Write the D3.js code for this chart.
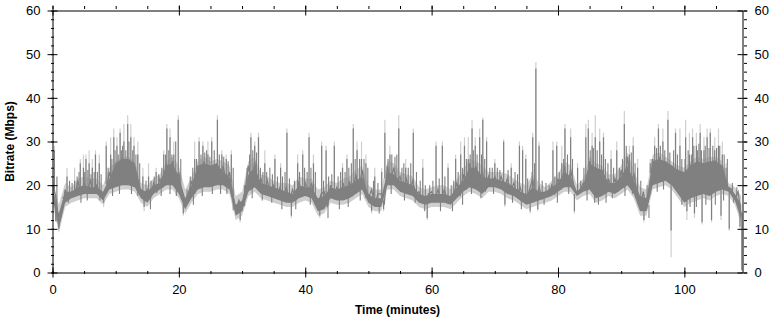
<!DOCTYPE html>
<html>
<head>
<meta charset="utf-8">
<script src="https://cdn.jsdelivr.net/npm/d3@7"></script>
<style>
  body { margin: 0; background: #fff; }
  svg { display: block; font-family: "Liberation Sans", Arial, sans-serif; }
</style>
</head>
<body>
<div id="chart"></div>
<script>
// bitrate, one entry per minute (t = 0..109)
var minutes = d3.range(0, 110);
var bandLo = [17,10,16,17,17.5,18,18,18,16.5,19, 19.5,20,20,19.5,17,16,18,19,20,20,
  18,14.5,17,19,19.5,19.5,20,20,19,13, 14,18.5,19.5,18,17.5,17,16.5,16,16,17,
  17.5,17,14,14.5,17,16.5,16.5,17,18,19, 16,15,15,20,20,18.5,18,17.5,16,15.5,
  16,16,16,15.5,17,18.5,19.5,19,18,19.5, 19.5,19,18,17.5,16.5,15.5,16,16.5,17,17.5,
  18.5,19.5,19.5,17.5,18.5,19,17,17.5,18.5,18, 19,20,18,14,14,20,20.5,21,20,18,
  16,17,17.5,18,17.5,18.5,19,18.5,16.5,12];
var bandHi = [19.5,13.5,18.5,18.5,19.5,20,19.5,19.5,18.5,21.5, 25,26,26,25,19,18.5,20,20.5,24.5,25,
  22,17,20,24.5,25,24.5,25,23,22,15.5, 16.5,22.5,24,20.5,20,19.5,19,18.5,18,20,
  19.5,19.5,17,17.5,19.5,19,19.5,20,21,22, 18,17,17,23,22.5,21,20.5,20,18,17.5,
  18,18,18,17.5,19.5,21,24,24,22,21.5, 21.5,21,20.5,19.5,18.5,18,19.5,18.5,18.5,19.5,
  20.5,23,22,18.5,20,25,24,23.5,20.5,20.5, 22,24.5,21,17.5,17,25.5,26,25.5,24.5,23.5,
  23,24.5,25.5,25,25.5,25.5,24.5,19.5,18,15.5];
var lightLo = [16,9,15,16,16.5,17,17,17,15.5,18, 18.5,19,19,18.5,16,15,17,18,19,19,
  17,13.5,16,18,18.5,18.5,19,19,18,12, 13,17.5,18.5,17,16.5,16,15.5,15,15,16,
  16.5,16,13,13.5,16,15.5,15.5,16,17,18, 15,14,14,19,19,17.5,17,16.5,15,14.5,
  15,15,15,14.5,16,17.5,18.5,18,17,18.5, 18.5,18,17,16.5,15.5,14.5,15,15.5,16,16.5,
  17.5,18.5,18.5,16.5,17.5,18,16,16.5,17.5,17, 18,19,17,13,13,19,19.5,20,19,17,
  15,16,16.5,17,16.5,17.5,18,17.5,15.5,11];
var lightHi = [21.5,15.5,20.5,19.5,21.5,22,21.5,21.5,20,24, 25.5,26.5,26.5,25.5,20.5,20,21.5,22.5,25.5,26.5,
  24.5,19,22,25.5,26.5,25.5,26,25.5,24.5,17.5, 18.5,25.5,26.5,22.5,22,21,20.5,20.5,20,22,
  21.5,21.5,19,19.5,21,20.5,21.5,22,23.5,24.5, 20,19,19,25.5,25,23,22.5,22,19.5,19,
  19.5,20,20,19,21.5,23.5,26,25.5,24.5,23, 23,23,22.5,21.5,20.5,20,22.5,20.5,19.5,21,
  22.5,25.5,24.5,20,21.5,26.5,25,24.5,22.5,22.5, 24.5,27.5,23.5,19.5,19,27,27.5,26.5,25.5,24.5,
  24,25.5,26.5,26,26.5,26.5,25.5,20.5,19.5,17.5];

// half-minute trace of the dark series (t = 0, 0.5, ... 109)
var trace = [20,17.5, 11,14, 19,17, 18.5,17.5, 21,18, 20.5,18.5, 21,18.5, 20,18, 17,19, 23,19.5,
  24.5,20, 26,21, 25,20.5, 24,20, 19,16.5, 19,17, 20.5,18.5, 21.5,19.5, 25,21, 25.5,20.5,
  23,17, 15,18, 21,18, 24.5,20, 25.5,20, 24,20.5, 25,21, 24.5,20.5, 23,18, 14,16.5,
  14.5,19, 24.5,19.5, 25.5,20, 21.5,18.5, 21,18, 20,17.5, 19.5,17, 19.5,16.5, 19,16.5, 21,17.5,
  20.5,18, 20.5,17, 15,18, 18.5,15, 20,17.5, 19.5,17, 20.5,17, 21,17.5, 22.5,18.5, 23.5,19,
  17,19, 15.5,18, 18,15.5, 24.5,20.5, 24,20.5, 22,19, 21.5,18.5, 21,18, 18.5,16.5, 16,18,
  18.5,16.5, 19,16.5, 19,16.5, 16,18, 20.5,17.5, 22.5,19, 25,20, 24.5,19.5, 23.5,18.5, 22,20,
  22,20, 22,19.5, 21.5,18.5, 20.5,18, 19.5,17, 16,19, 21.5,16.5, 19.5,17, 18.5,17.5, 20,18,
  21.5,19, 24.5,20, 23.5,20, 18,19, 20.5,19, 25.5,19.5, 24,17.5, 23.5,18, 21.5,19, 21.5,18.5,
  23.5,19.5, 26.5,20.5, 22.5,18.5, 14.5,18.5, 14.5,18, 26,20.5, 26.5,21, 25.5,21.5, 24.5,20.5, 23.5,18.5,
  16.5,23, 24.5,17.5, 25.5,18, 25,18.5, 18,25.5, 25.5,19, 24.5,19.5, 19.5,19, 17,18.5, 13];

// short peaks: [minute, dark top, light top]
var peaks = [[0.3,28,29],[2.3,22,24],[3.5,21,24],[4.4,25,26],[4.9,24,27],[5.3,26,27],[5.8,25,28],
  [6.3,24,26],[6.8,27,28],[7.4,25,27],[8.5,29,30],[9.2,27,31],[9.7,31,33],[10.2,29,31],
  [10.7,32,33],[11.3,30,34],[11.9,34,36],[12.4,31,34],[12.9,29,31],[13.5,27,30],[14.3,22,24],
  [15.2,22,25],[16.4,23,24],[17.6,27,28],[18.1,33,34],[18.6,31,33],[19.2,27,30],[19.9,35,36],
  [22.5,26,30],[23.2,30,31],[23.8,29,30],[24.6,27,30],[25.2,30,31],[26.1,35,36],[26.8,27,28],
  [27.5,26,27],[28.3,27,28],[31.4,31,32],[32,29,30],[32.6,31,32],[33.6,25,28],[35.2,26,27],
  [36.1,24,25],[37.1,32,33],[38.8,25,27],[39.6,27,28],[40.6,31,32],[41.3,25,27],[42.6,29,30],
  [43.3,28,29],[44.6,29,30],[45.9,24,25],[46.6,26,27],[47.6,33,34],[48.2,28,30],[48.9,26,30],
  [49.6,25,27],[51,22,24],[52.1,23,24],[52.6,32,35],[53.4,27,29],[54.8,33,36],[55.9,24,26],
  [57.1,32,33],[58.6,24,26],[60.7,29,30],[61.7,29,30],[62.6,24,25],[63.8,26,27],[64.6,27,30],
  [65.2,29,31],[65.8,26,31],[66.4,33,35],[66.9,29,31],[67.6,31,33],[68.1,35,35.5],[68.7,30,31],
  [70,25,26],[71.4,30,30.5],[72.6,24,25],[73.9,29,30],[74.4,28,29],[74.9,26,27],[76,31,32],
  [76.5,46.7,48.2],[77,29,30],[79.2,28,30],[79.8,29,30],[80.6,25,29],[81.1,33,34],[82,31,33],
  [83.1,24,25],[84.4,31,34],[84.8,33,35],[85.4,29,32],[85.9,31,36],[86.6,30,33],[87.2,31,32],
  [88.4,26,28],[89.3,28,30],[90.5,34,37],[91.3,27,29],[91.9,29,31],[92.6,24,26],[94.6,25,26],
  [95.3,29,31],[95.9,33,34],[96.6,30,33],[97.4,35,37],[98.6,32,33],[99.3,29,33],[100.2,31,35],
  [100.8,27,32],[101.3,31,33],[101.9,29,32],[102.5,32,34],[103.1,28,31],[103.6,31,33],
  [104.1,32,33],[104.8,28,31],[105.4,29,33],[106,27,30],[106.6,24,25]];

// short drops: [minute, dark bottom, light bottom]
var dips = [[1,10,9.5],[8.1,16,15],[14.5,15,14],[20.7,13.5,13],[29.7,12,11.5],[37.8,13,12.5],
  [42.3,13,12.5],[50.5,14,13.5],[52.4,14.5,14],[59.3,12.5,12],[71.6,15.5,15],[75.6,14,13.5],
  [76.8,14.5,14],[82.6,14,13.5],[93.6,12,11.5],[97.9,9.6,3.5],[100.4,14,12],[101.6,13.5,12.5],
  [102.8,11.5,11],[104.3,12,11.5],[105.8,13,12],[107.1,10,9.5],[108.8,10.5,10],[109.1,0.5,0.5]];

// smaller flickers above the band: [minute, top]
var hairs = [[0.7,22],[1.6,17],[2.7,21],[3.1,20.5],[3.9,22],[4.2,23],[5.1,23],[5.6,23.5],[6.1,22.5],
  [6.6,23],[7.1,23],[7.7,22.5],[8.8,24],[9.4,26],[9.9,28],[10.4,27],[10.9,28],[11.1,29],[11.6,28],
  [12.1,30],[12.7,28],[13.2,27],[13.8,25],[14.8,21],[15.6,21],[16.1,22],[16.8,22.5],[17.3,24],
  [17.9,27],[18.4,28],[18.9,27],[19.5,30],[20.3,26],[21.3,19],[21.8,22],[22.2,24],[22.8,26],
  [23.5,27],[24.1,27.5],[24.4,28],[24.9,26.5],[25.6,28],[26.4,27],[27.1,26.5],[27.8,25.5],
  [28.6,24],[30.4,20],[30.8,24],[31.2,27],[31.7,28],[32.3,27.5],[32.9,24],[33.3,23],[33.9,23],
  [34.4,24],[34.8,22.5],[35.6,22],[36.4,22],[36.8,23],[37.5,21.5],[38.3,21],[39.1,23],[39.9,24],
  [40.3,23],[40.9,24],[41.6,23],[42.9,21],[43.7,22],[44.2,22.5],[45.2,22],[45.6,23],[46.3,23],
  [46.9,24],[47.3,25],[47.9,26],[48.6,26],[49.3,26],[49.9,24],[50.8,21],[51.5,20.5],[53.1,26],
  [53.7,27],[54.2,26.5],[54.5,27],[55.3,24],[55.6,25],[56.3,24],[56.7,25],[57.6,23],[58.2,21],
  [59,20],[59.7,20],[60.2,21],[61.2,21.5],[62.1,22],[63.1,20],[63.5,21],[64.2,23],[64.9,24],
  [65.5,26],[66.1,27],[66.6,28],[67.2,27],[67.9,27],[68.4,26],[69.2,24],[69.6,24],[70.4,24],
  [70.8,23.5],[72.1,23.5],[73.2,23],[73.6,22.5],[75.2,21.5],[75.9,23],[76.3,25],[77.5,21],
  [78.1,20.5],[78.6,20],[79.5,22],[80.2,23],[80.9,26],[81.5,27],[82.3,26],[83.6,21],[84.1,24],
  [85.1,28],[85.6,28.5],[86.2,28],[86.9,27],[87.5,26],[87.9,25],[88.8,24],[89.7,24],[90.2,26],
  [90.8,29],[91.6,27.5],[92.2,25],[93.1,21],[94.1,20],[94.9,26],[95.6,28.5],[96.2,29],[96.9,28],
  [97.7,27.5],[98.3,28],[98.9,27],[99.6,26],[100.1,26],[100.6,28],[101.1,27],[101.5,29],
  [102.1,28],[102.3,29.5],[102.7,28],[103.3,29],[103.9,28.5],[104.5,29],[105.1,28.5],[105.6,29],
  [106.3,27],[106.8,26],[107.6,20.5],[108.3,19.5]];

// smaller flickers below the band: [minute, bottom]
var lows = [[0.5,16],[2.5,16],[4.5,16],[5.5,16.5],[7.5,16.5],[9.5,17.5],[10.6,18],[12.5,18],
  [13.5,17.5],[15.5,14.5],[17.2,17.5],[18.6,18],[19.6,17.5],[22.3,15.5],[23.7,17.5],[25.3,18],
  [26.6,18],[27.6,18],[31.6,17],[33.2,16.5],[34.7,16],[36.3,14.5],[38.5,14.5],[40.8,15.5],
  [43.6,12.5],[45.4,14.5],[46.8,15],[48.7,16.5],[51.7,13.5],[53.6,18],[55.7,16.5],[57.4,16],
  [58.9,14],[61.4,14],[63.3,14],[64.9,15.5],[66.3,18],[67.8,17],[69.8,18],[72.8,16],[74.2,14.5],
  [77.8,15.5],[79.9,16],[81.7,18],[84.6,16.5],[85.8,16],[86.4,15.5],[87.6,16],[88.6,17],
  [90.6,17.5],[91.8,18],[94.4,12.5],[95.7,18.5],[96.7,19],[99.6,15.5],[100.9,15],[101.9,15],
  [103.4,15.5],[104.9,15.5],[106.2,16.5],[107.8,16]];

var xTicks = [0, 20, 40, 60, 80, 100];
var yTicks = [0, 10, 20, 30, 40, 50, 60];

var width = 775, height = 322;
var margin = {top: 10.5, right: 32.5, bottom: 49.5, left: 52.5};

var svg = d3.select("#chart")
    .append("svg")
    .attr("width", width)
    .attr("height", height);

var x = d3.scaleLinear()
    .domain([0, 109.2])
    .range([margin.left, width - margin.right]);

var y = d3.scaleLinear()
    .domain([0, 60])
    .range([height - margin.bottom, margin.top]);

svg.append("clipPath")
    .attr("id", "plot")
    .append("rect")
    .attr("x", x(0)).attr("y", y(60))
    .attr("width", x(109.2) - x(0))
    .attr("height", y(0) - y(60));

var g = svg.append("g").attr("clip-path", "url(#plot)");

function mid(t) {
    var i = Math.min(109, Math.round(t));
    return (bandLo[i] + bandHi[i]) / 2;
}

function ticksFrom(cls, data, col, colour, w) {
    g.selectAll("." + cls)
        .data(data)
        .enter()
        .append("line")
        .attr("class", cls)
        .attr("x1", function (d) { return x(d[0]); })
        .attr("x2", function (d) { return x(d[0]); })
        .attr("y1", function (d) { return y(mid(d[0])); })
        .attr("y2", function (d) { return y(d[col]); })
        .attr("stroke", colour)
        .attr("stroke-width", w);
}

// light grey envelope
g.append("path")
    .datum(minutes)
    .attr("fill", "#cfcfcf")
    .attr("d", d3.area()
        .x(function (d) { return x(d); })
        .y0(function (d) { return y(lightLo[d]); })
        .y1(function (d) { return y(lightHi[d]); }));

ticksFrom("lpeak", peaks.concat(dips), 2, "#cfcfcf", 1.2);

// dark grey core
g.append("path")
    .datum(minutes)
    .attr("fill", "#808080")
    .attr("d", d3.area()
        .x(function (d) { return x(d); })
        .y0(function (d) { return y(bandLo[d]); })
        .y1(function (d) { return y(bandHi[d]); }));

g.append("path")
    .datum(trace)
    .attr("fill", "none")
    .attr("stroke", "#808080")
    .attr("stroke-width", 1.3)
    .attr("d", d3.line()
        .x(function (d, i) { return x(i / 2); })
        .y(function (d) { return y(d); }));

ticksFrom("hair", hairs, 1, "#808080", 1.1);
ticksFrom("low", lows, 1, "#808080", 1.1);
ticksFrom("dpeak", peaks.concat(dips), 1, "#808080", 1.2);

// axes: majors cross the line, minors are short crosses
function frame(axisFn, scale, pos, majors, minors) {
    var horiz = axisFn === d3.axisBottom || axisFn === d3.axisTop;
    var ax = svg.append("g").attr("transform", pos);
    ax.call(axisFn(scale).tickValues(minors).tickSize(3).tickFormat(""))
        .call(function (s) { s.select(".domain").remove(); });
    ax.selectAll(".tick line").attr("transform", horiz ? "translate(0,-1.5)" : "translate(1.5,0)");
    var ax2 = svg.append("g").attr("transform", pos);
    ax2.call(axisFn(scale).tickValues(majors).tickSize(5).tickSizeOuter(0).tickPadding(7));
    ax2.selectAll(".tick line").clone()
        .attr("x2", function () { return -d3.select(this).attr("x2") || 0; })
        .attr("y2", function () { return -d3.select(this).attr("y2") || 0; });
    ax2.select(".domain").attr("stroke", "#000");
    ax2.selectAll("text")
        .style("font-size", "13px")
        .style("font-family", "'Liberation Sans', Arial, sans-serif")
        .attr("fill", "#000");
    return ax2;
}

var minorX = d3.range(0, 110, 5);
var minorY = d3.range(0, 61, 2);

frame(d3.axisBottom, x, "translate(0," + y(0) + ")", xTicks, minorX);
frame(d3.axisTop, x, "translate(0," + y(60) + ")", xTicks, minorX)
    .selectAll("text").remove();
frame(d3.axisLeft, y, "translate(" + x(0) + ",0)", yTicks, minorY);
frame(d3.axisRight, y, "translate(" + x(109.2) + ",0)", yTicks, minorY);

svg.append("text")
    .attr("x", (x(0) + x(109.2)) / 2)
    .attr("y", 314)
    .attr("text-anchor", "middle")
    .style("font-size", "12px")
    .style("font-weight", "bold")
    .text("Time (minutes)");

svg.append("text")
    .attr("transform", "translate(14," + (y(0) + y(60)) / 2 + ")rotate(-90)")
    .attr("text-anchor", "middle")
    .style("font-size", "12px")
    .style("font-weight", "bold")
    .text("Bitrate (Mbps)");
</script>
</body>
</html>
